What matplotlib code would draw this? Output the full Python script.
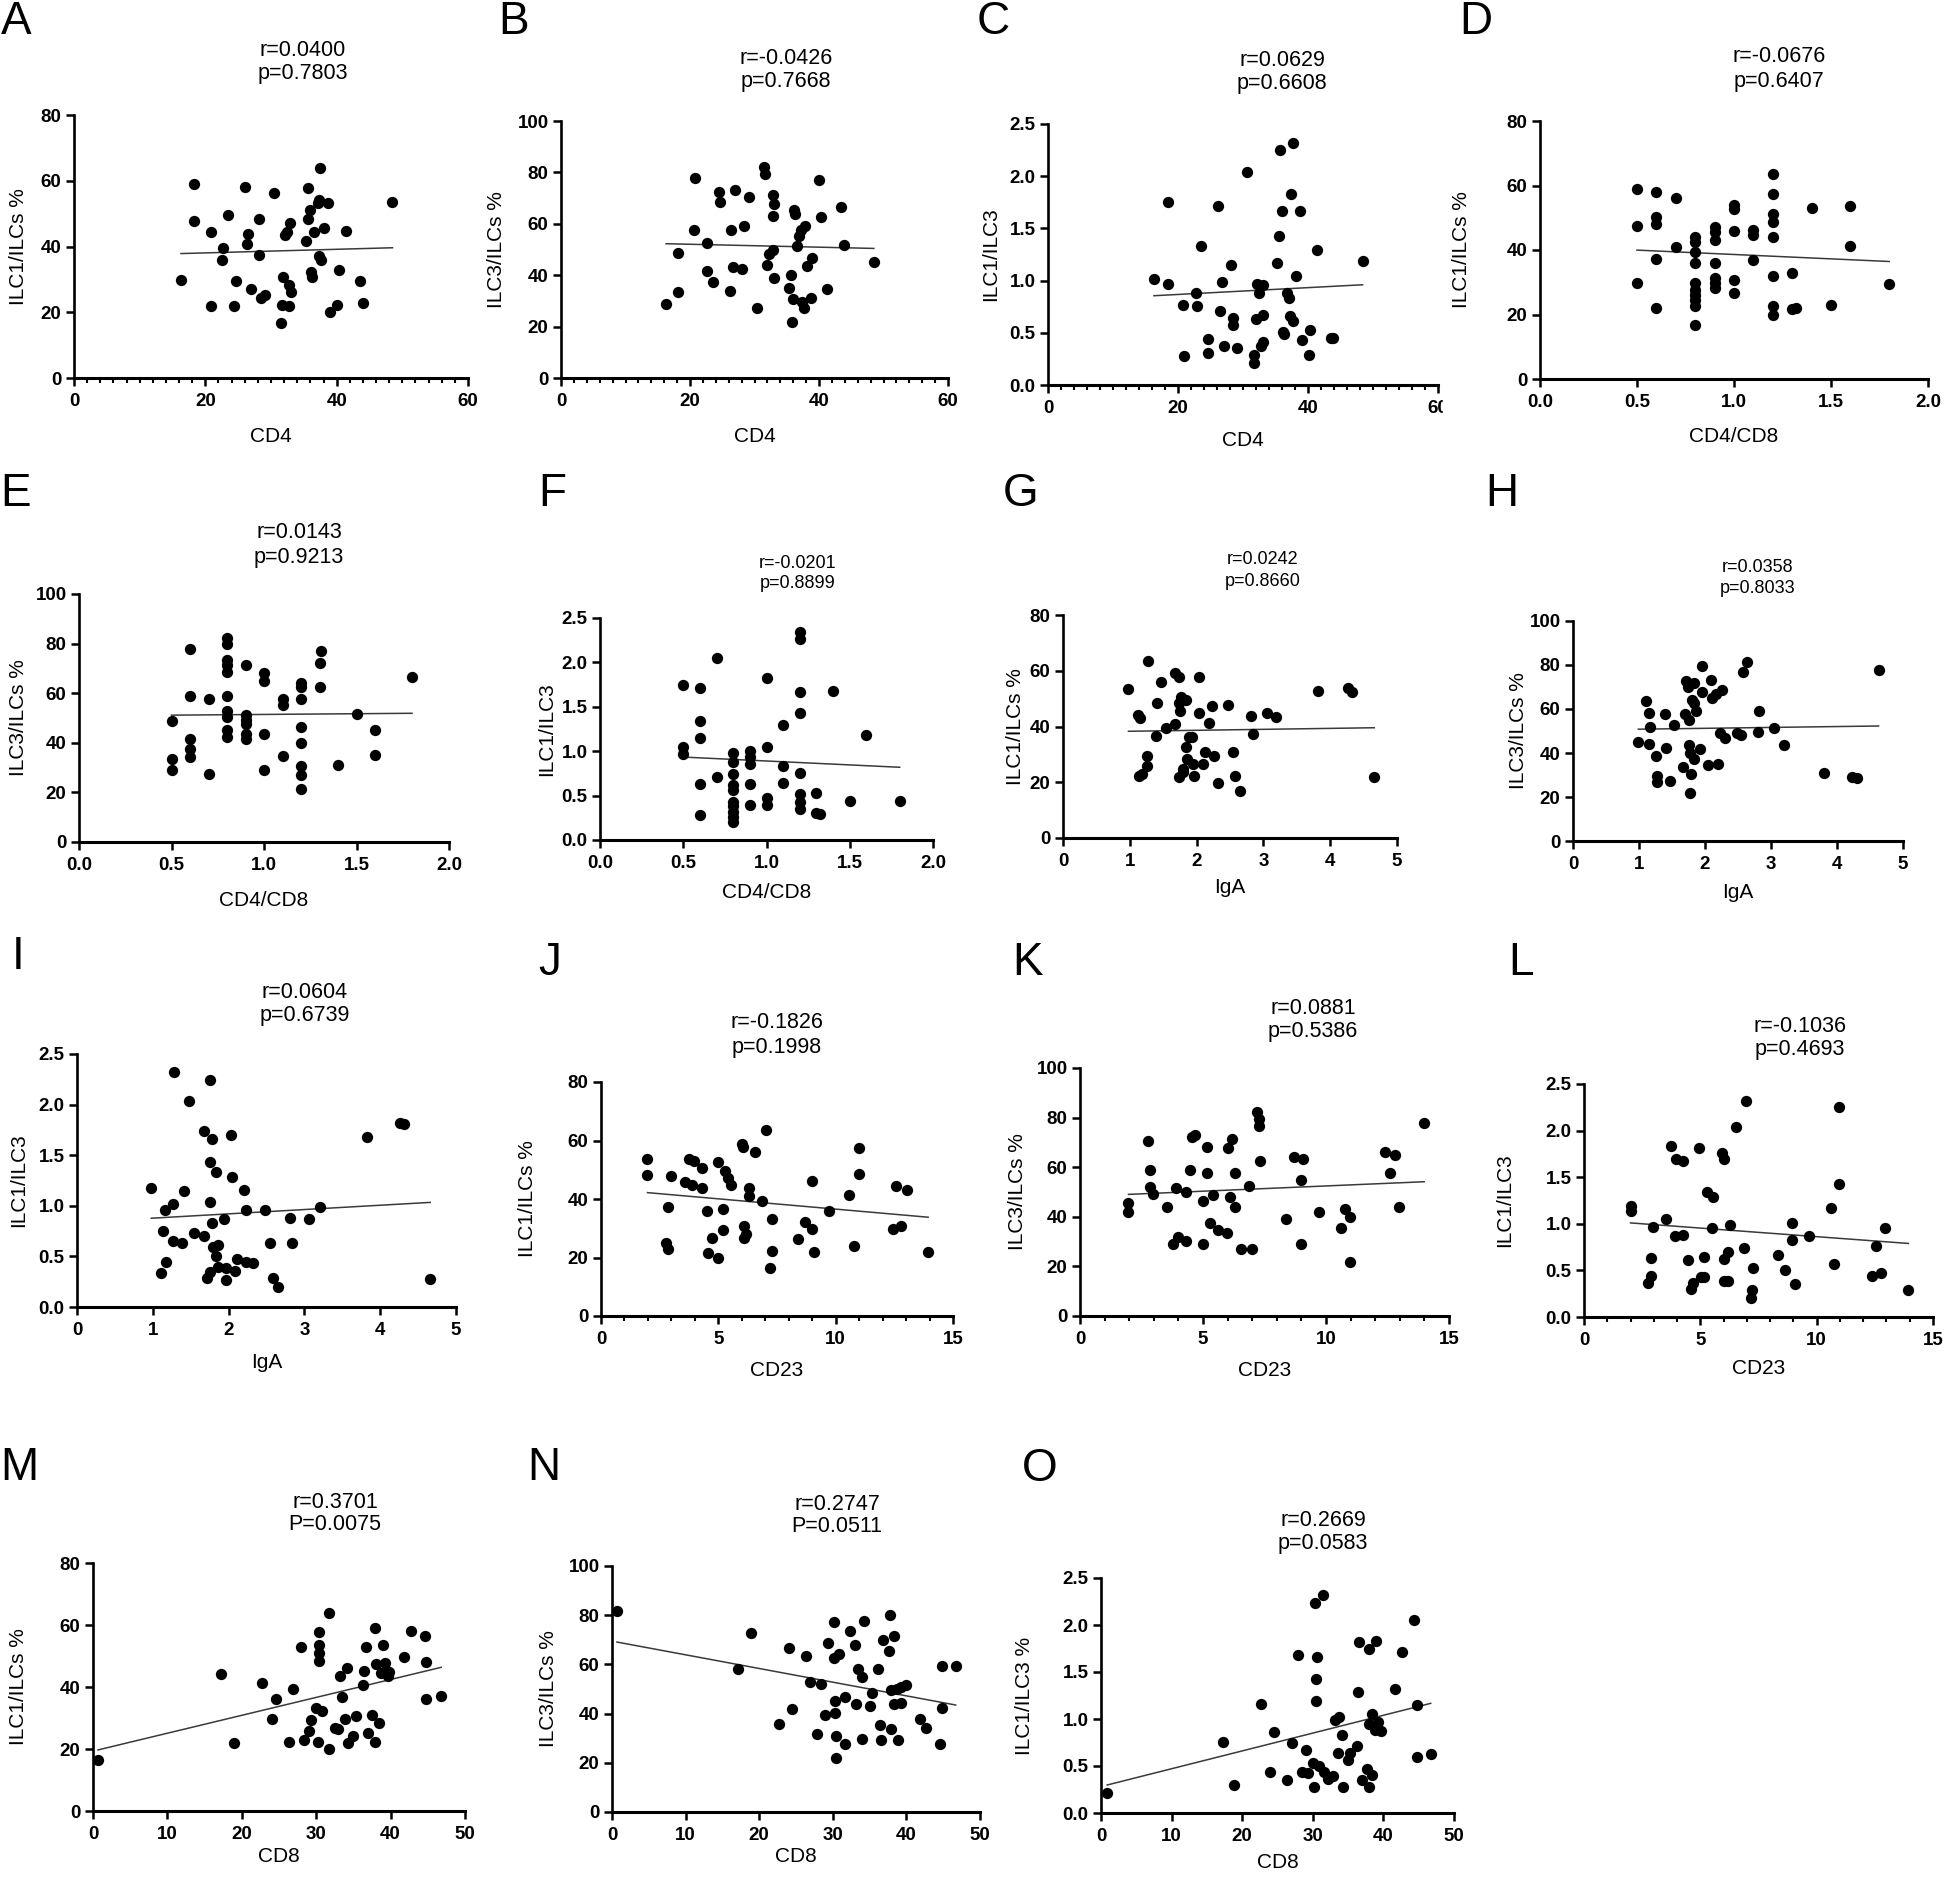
import numpy as np
import matplotlib
matplotlib.use("Agg")
import matplotlib.pyplot as plt
from matplotlib.ticker import MultipleLocator
from matplotlib.patches import Rectangle

plt.rcParams['font.family'] = ['Liberation Sans', 'DejaVu Sans']

W, H = 1944, 1878

# ---- data: (x, y) pairs ----
pts_a = [(16.3, 29.7), (18.2, 59.0), (18.2, 47.8), (20.8, 44.5), (20.8, 21.9), (22.7, 39.4), (22.5, 36.0),
         (23.4, 49.5), (24.4, 21.9), (24.7, 29.4), (26.1, 58.2), (26.5, 43.7), (26.3, 40.9), (27.0, 27.0),
         (28.2, 48.3), (28.2, 37.4), (28.5, 24.2), (29.1, 25.2), (30.5, 56.3), (31.9, 30.8), (31.6, 22.3),
         (31.5, 16.8), (32.2, 43.5), (32.4, 44.5), (32.7, 21.9), (32.9, 47.3), (32.8, 28.2), (33.0, 26.2),
         (35.6, 57.7), (35.9, 51.1), (35.6, 48.5), (35.3, 41.7), (36.1, 32.3), (36.2, 30.6), (36.6, 44.5),
         (37.1, 53.1), (37.5, 63.8), (37.3, 37.1), (37.6, 36.0), (38.0, 45.7), (38.7, 53.1), (39.0, 20.1),
         (40.0, 22.1), (40.3, 33.0), (41.4, 44.8), (43.5, 29.4), (44.0, 22.8), (48.5, 53.4), (37.3, 54.1)]
pts_b = [(16.3, 28.8), (18.2, 33.3), (18.2, 48.8), (20.8, 77.7), (20.6, 57.6), (22.6, 41.5), (22.7, 52.5),
         (23.5, 37.2), (24.5, 72.3), (24.7, 68.4), (26.2, 33.7), (26.4, 57.6), (26.7, 43.1), (27.0, 73.2),
         (28.1, 42.4), (28.3, 59.2), (29.1, 70.3), (30.4, 27.2), (31.5, 82.0), (31.7, 79.4), (32.0, 44.0),
         (32.2, 48.2), (32.8, 63.1), (32.8, 49.9), (32.9, 71.2), (33.1, 67.7), (33.1, 39.1), (35.3, 35.0),
         (35.6, 40.2), (35.8, 21.6), (36.0, 30.8), (36.2, 65.4), (36.3, 63.9), (36.6, 51.2), (36.9, 55.1),
         (37.2, 57.6), (37.4, 29.4), (37.7, 27.2), (37.9, 59.3), (38.2, 43.6), (38.7, 31.1), (38.9, 46.6),
         (40.0, 77.1), (40.3, 62.6), (41.3, 34.6), (43.4, 66.5), (43.9, 51.8), (48.5, 45.0)]
pts_c = [(16.3, 1.02), (18.4, 0.97), (18.4, 1.75), (20.8, 0.77), (20.9, 0.28), (22.7, 0.88), (22.9, 0.76),
         (23.6, 1.33), (24.6, 0.44), (24.6, 0.31), (26.2, 1.71), (26.5, 0.71), (26.7, 0.99), (27.1, 0.37),
         (28.2, 1.15), (28.4, 0.64), (28.4, 0.57), (29.1, 0.35), (30.6, 2.04), (31.7, 0.29), (31.7, 0.21),
         (32.0, 0.63), (32.2, 0.97), (32.5, 0.88), (32.7, 0.37), (33.0, 0.41), (33.0, 0.67), (33.0, 0.96),
         (35.3, 1.17), (35.6, 1.43), (35.7, 2.25), (36.0, 1.67), (36.2, 0.51), (36.3, 0.49), (36.7, 0.88),
         (37.1, 0.83), (37.2, 0.66), (37.4, 1.83), (37.7, 2.32), (37.7, 0.61), (38.2, 1.04), (38.7, 1.67),
         (39.1, 0.43), (40.1, 0.29), (40.3, 0.53), (41.4, 1.29), (43.6, 0.45), (43.9, 0.45), (48.4, 1.19)]
pts_d = [(0.5, 58.9), (0.5, 47.5), (0.5, 29.7), (0.6, 58.0), (0.6, 50.3), (0.6, 48.0), (0.6, 37.1),
         (0.6, 22.0), (0.7, 56.2), (0.7, 41.0), (0.8, 43.9), (0.8, 42.6), (0.8, 39.5), (0.8, 35.9),
         (0.8, 29.7), (0.8, 27.6), (0.8, 25.9), (0.8, 24.5), (0.8, 22.7), (0.8, 16.6), (0.9, 47.2),
         (0.9, 45.7), (0.9, 43.1), (0.9, 35.9), (0.9, 31.2), (0.9, 29.9), (0.9, 28.1), (1.0, 53.9),
         (1.0, 52.6), (1.0, 46.0), (1.0, 30.7), (1.0, 26.6), (1.1, 46.2), (1.1, 44.6), (1.1, 36.9),
         (1.2, 63.5), (1.2, 57.3), (1.2, 51.1), (1.2, 48.8), (1.2, 44.1), (1.2, 32.0), (1.2, 22.5),
         (1.2, 19.9), (1.3, 32.8), (1.3, 21.8), (1.32, 22.0), (1.4, 52.9), (1.5, 22.8), (1.6, 53.6),
         (1.6, 41.2), (1.8, 29.5)]
pts_e = [(0.5, 48.9), (0.5, 33.6), (0.5, 28.9), (0.6, 77.8), (0.6, 59.0), (0.6, 41.7), (0.6, 37.7),
         (0.6, 34.1), (0.7, 57.5), (0.7, 27.3), (0.8, 82.1), (0.8, 79.8), (0.8, 73.4), (0.8, 71.3),
         (0.8, 68.6), (0.8, 58.8), (0.8, 52.9), (0.8, 50.5), (0.8, 45.1), (0.8, 42.4), (0.9, 71.3),
         (0.9, 51.1), (0.9, 49.1), (0.9, 47.5), (0.9, 43.7), (0.9, 41.7), (1.0, 68.2), (1.0, 64.9),
         (1.0, 43.7), (1.0, 28.9), (1.1, 57.5), (1.1, 55.2), (1.1, 34.6), (1.2, 64.3), (1.2, 62.6),
         (1.2, 57.6), (1.2, 46.4), (1.2, 40.0), (1.2, 30.6), (1.2, 27.2), (1.2, 21.5), (1.3, 72.3),
         (1.31, 77.0), (1.3, 62.3), (1.4, 31.2), (1.5, 51.5), (1.6, 45.1), (1.6, 35.0), (1.8, 66.4)]
pts_f = [(0.5, 1.75), (0.5, 1.05), (0.5, 0.97), (0.6, 1.71), (0.6, 1.34), (0.6, 1.15), (0.6, 0.63),
         (0.6, 0.28), (0.7, 2.05), (0.7, 0.71), (0.8, 0.98), (0.8, 0.88), (0.8, 0.74), (0.8, 0.62),
         (0.8, 0.56), (0.8, 0.43), (0.8, 0.38), (0.8, 0.32), (0.8, 0.26), (0.8, 0.20), (0.9, 1.00),
         (0.9, 0.94), (0.9, 0.86), (0.9, 0.63), (0.9, 0.39), (1.0, 1.82), (1.0, 1.05), (1.0, 0.47),
         (1.0, 0.39), (1.1, 1.30), (1.1, 0.83), (1.1, 0.64), (1.2, 2.34), (1.2, 2.26), (1.2, 1.67),
         (1.2, 1.43), (1.2, 0.76), (1.2, 0.52), (1.2, 0.43), (1.2, 0.35), (1.3, 0.53), (1.3, 0.30),
         (1.32, 0.29), (1.4, 1.68), (1.5, 0.44), (1.6, 1.18), (1.8, 0.44)]
pts_g = [(0.98, 53.5), (1.13, 44.2), (1.14, 22.3), (1.16, 43.0), (1.19, 23.0), (1.26, 29.5), (1.26, 25.9),
         (1.27, 63.6), (1.39, 36.7), (1.40, 48.4), (1.47, 56.1), (1.54, 39.4), (1.67, 59.3), (1.68, 41.0),
         (1.73, 57.9), (1.73, 48.6), (1.75, 45.7), (1.73, 21.9), (1.77, 50.7), (1.79, 24.7), (1.79, 23.5),
         (1.84, 49.6), (1.84, 32.5), (1.86, 28.3), (1.89, 36.2), (1.93, 36.2), (1.95, 26.6), (1.96, 22.4),
         (2.04, 57.9), (2.04, 44.8), (2.09, 26.6), (2.12, 30.7), (2.19, 41.2), (2.23, 47.2), (2.26, 29.5),
         (2.32, 19.9), (2.47, 47.8), (2.54, 30.7), (2.58, 22.3), (2.65, 16.7), (2.82, 43.8), (2.84, 37.3),
         (3.05, 44.8), (3.19, 43.3), (3.82, 52.8), (4.26, 53.7), (4.32, 52.5), (4.66, 21.9)]
pts_h = [(0.99, 45.2), (1.10, 63.6), (1.15, 58.0), (1.15, 44.1), (1.17, 51.7), (1.25, 38.8), (1.27, 29.5),
         (1.28, 27.0), (1.39, 57.7), (1.41, 42.4), (1.47, 27.3), (1.53, 52.7), (1.67, 33.8), (1.69, 57.7),
         (1.71, 72.9), (1.74, 69.8), (1.76, 55.0), (1.76, 43.6), (1.77, 40.2), (1.77, 21.7), (1.79, 30.5),
         (1.81, 64.1), (1.83, 37.1), (1.84, 71.7), (1.86, 59.2), (1.84, 62.9), (1.93, 41.7), (1.95, 79.7),
         (1.95, 67.9), (2.04, 34.5), (2.09, 73.2), (2.11, 64.8), (2.16, 66.8), (2.19, 35.0), (2.26, 68.6),
         (2.23, 48.9), (2.30, 46.7), (2.49, 48.9), (2.54, 48.2), (2.58, 77.0), (2.63, 81.5), (2.80, 49.7),
         (2.82, 59.2), (3.04, 51.2), (3.20, 43.6), (3.81, 31.1), (4.23, 28.9), (4.30, 28.5), (4.63, 77.7)]
pts_i = [(0.98, 1.18), (1.11, 0.34), (1.13, 0.75), (1.16, 0.96), (1.17, 0.44), (1.27, 1.02), (1.28, 2.32),
         (1.27, 0.65), (1.39, 0.63), (1.41, 1.15), (1.48, 2.04), (1.54, 0.73), (1.67, 1.74), (1.68, 0.70),
         (1.72, 0.29), (1.75, 2.24), (1.75, 1.43), (1.76, 1.04), (1.76, 0.35), (1.78, 1.66), (1.78, 0.83),
         (1.80, 0.59), (1.83, 0.50), (1.84, 1.33), (1.86, 0.61), (1.86, 0.40), (1.94, 0.87), (1.96, 0.27),
         (1.97, 0.39), (2.03, 1.70), (2.05, 1.28), (2.09, 0.36), (2.11, 0.47), (2.20, 1.16), (2.23, 0.96),
         (2.23, 0.44), (2.32, 0.43), (2.48, 0.96), (2.54, 0.63), (2.58, 0.29), (2.65, 0.20), (2.81, 0.88),
         (2.84, 0.63), (3.06, 0.87), (3.20, 0.99), (3.83, 1.68), (4.26, 1.82), (4.32, 1.81), (4.66, 0.28)]
pts_j = [(1.98, 53.6), (1.98, 48.1), (2.86, 37.3), (2.78, 25.0), (2.86, 22.9), (2.99, 47.9), (3.57, 45.8),
         (3.76, 53.6), (3.89, 44.7), (3.97, 52.9), (4.29, 50.7), (4.29, 43.6), (4.50, 35.9), (4.58, 21.7),
         (4.71, 26.8), (4.97, 52.7), (4.97, 19.9), (5.19, 36.7), (5.19, 29.4), (5.29, 49.6), (5.42, 47.3),
         (5.56, 44.7), (6.01, 58.7), (6.03, 57.8), (6.08, 30.7), (6.08, 26.5), (6.16, 28.2), (6.30, 43.6),
         (6.30, 41.0), (6.56, 56.1), (6.88, 39.4), (7.01, 63.7), (7.28, 33.0), (7.28, 22.3), (7.22, 16.5),
         (8.39, 26.2), (8.68, 32.2), (8.99, 46.2), (8.99, 29.6), (9.07, 22.0), (9.71, 35.9), (10.58, 41.3),
         (10.79, 24.0), (10.98, 57.6), (10.98, 48.7), (12.43, 29.6), (12.57, 44.4), (12.78, 30.7),
         (13.02, 43.2), (13.94, 22.0)]
pts_k = [(1.97, 45.4), (1.97, 42.0), (2.77, 70.4), (2.85, 58.9), (2.85, 51.9), (2.95, 49.2), (3.55, 43.8),
         (3.78, 29.2), (3.91, 51.5), (3.98, 31.7), (4.29, 30.3), (4.29, 50.1), (4.46, 58.9), (4.56, 72.1),
         (4.66, 73.0), (4.99, 46.5), (4.99, 29.0), (5.17, 68.3), (5.17, 57.5), (5.29, 37.3), (5.42, 48.8),
         (5.60, 34.6), (5.97, 33.6), (6.00, 67.7), (6.10, 48.1), (6.18, 71.3), (6.30, 57.5), (6.30, 43.8),
         (6.55, 27.2), (6.88, 52.6), (6.98, 27.2), (7.18, 82.1), (7.26, 79.4), (7.26, 76.7), (7.31, 62.5),
         (8.39, 39.1), (8.70, 64.0), (9.00, 54.9), (9.00, 29.2), (9.08, 63.3), (9.71, 41.8), (10.61, 35.3),
         (10.76, 43.0), (10.97, 40.0), (10.97, 21.6), (12.40, 66.3), (12.60, 57.8), (12.81, 65.0),
         (12.98, 44.1), (13.99, 77.8)]
pts_l = [(2.00, 1.19), (2.00, 1.14), (2.74, 0.36), (2.88, 0.44), (2.88, 0.63), (2.96, 0.97), (3.54, 1.05),
         (3.76, 1.83), (3.89, 0.87), (3.94, 1.69), (4.26, 1.67), (4.26, 0.88), (4.48, 0.61), (4.61, 0.30),
         (4.69, 0.37), (4.93, 1.81), (5.01, 0.43), (5.14, 0.64), (5.14, 0.43), (5.28, 1.34), (5.54, 1.29),
         (5.49, 0.95), (5.94, 1.76), (6.00, 1.70), (6.02, 0.62), (6.02, 0.39), (6.21, 0.39), (6.21, 0.70),
         (6.26, 0.99), (6.53, 2.04), (6.87, 0.74), (6.95, 2.32), (7.19, 0.20), (7.22, 0.29), (7.27, 0.53),
         (8.34, 0.67), (8.66, 0.50), (8.95, 1.01), (8.95, 0.83), (9.06, 0.35), (9.67, 0.87), (10.60, 1.17),
         (10.74, 0.57), (10.95, 1.43), (10.95, 2.25), (12.39, 0.44), (12.55, 0.76), (12.76, 0.47),
         (12.95, 0.96), (13.94, 0.29)]
pts_m = [(0.67, 16.5), (17.25, 44.1), (18.9, 21.9), (22.7, 41.4), (24.0, 29.6), (24.6, 36.1), (26.4, 22.1),
         (26.9, 39.3), (27.9, 52.9), (28.3, 22.9), (29.0, 25.9), (29.3, 29.4), (30.0, 33.2), (30.2, 22.2),
         (30.4, 57.6), (30.4, 53.6), (30.4, 50.9), (30.4, 48.5), (30.8, 32.1), (31.7, 63.8), (31.7, 20.0),
         (32.5, 26.7), (32.9, 26.5), (33.2, 43.4), (33.5, 36.7), (33.9, 29.6), (34.2, 46.1), (34.3, 21.9),
         (35.0, 24.2), (35.4, 30.7), (36.25, 40.7), (36.4, 45.2), (36.7, 52.9), (36.9, 25.1), (37.5, 31.0),
         (37.9, 22.4), (37.9, 59.0), (38.1, 47.5), (38.5, 28.3), (38.75, 44.5), (39.0, 53.6), (39.2, 47.9),
         (39.6, 43.4), (39.8, 44.7), (41.8, 49.8), (42.7, 58.1), (44.6, 56.3), (44.8, 48.2), (44.8, 36.1),
         (46.8, 37.1)]
pts_n = [(0.67, 81.8), (17.1, 58.0), (18.9, 72.6), (22.7, 35.7), (24.0, 66.5), (24.5, 41.9), (26.3, 63.4),
         (26.9, 53.0), (27.8, 31.8), (28.4, 52.0), (29.0, 39.5), (29.4, 68.8), (30.1, 77.3), (30.1, 62.4),
         (30.3, 45.3), (30.3, 40.4), (30.5, 30.7), (30.5, 21.9), (30.9, 64.2), (31.6, 46.9), (31.6, 27.7),
         (32.4, 73.5), (33.0, 67.8), (33.2, 43.9), (33.4, 58.0), (33.9, 55.0), (33.9, 29.6), (34.3, 77.7),
         (35.1, 43.1), (35.3, 48.5), (36.2, 58.0), (36.4, 35.4), (36.6, 29.1), (36.8, 70.1), (37.6, 65.5),
         (37.8, 80.0), (37.9, 49.6), (37.9, 33.6), (38.3, 71.5), (38.3, 43.9), (38.7, 49.9), (38.9, 29.3),
         (39.3, 50.7), (39.3, 44.5), (39.9, 51.6), (41.8, 37.7), (42.7, 34.1), (44.5, 27.7), (44.8, 59.3),
         (44.8, 42.2), (46.7, 59.3)]
pts_o = [(0.88, 0.21), (17.3, 0.76), (18.9, 0.30), (22.7, 1.16), (24.0, 0.44), (24.5, 0.86), (26.4, 0.35),
         (27.0, 0.74), (27.9, 1.68), (28.5, 0.44), (29.0, 0.67), (29.3, 0.43), (30.05, 0.53), (30.1, 0.28),
         (30.3, 2.23), (30.5, 1.43), (30.5, 1.19), (30.6, 1.66), (30.9, 0.50), (31.5, 2.32), (31.6, 0.44),
         (32.2, 0.36), (32.9, 0.39), (33.2, 0.99), (33.6, 0.64), (33.7, 1.02), (34.1, 0.83), (34.3, 0.28),
         (35.0, 0.56), (35.3, 0.64), (36.2, 0.71), (36.4, 1.29), (36.6, 1.82), (36.9, 0.35), (37.7, 0.47),
         (37.9, 0.28), (37.95, 1.74), (38.0, 0.95), (38.4, 1.05), (38.4, 0.40), (38.8, 0.88), (39.0, 1.83),
         (39.3, 0.97), (39.7, 0.87), (41.7, 1.32), (42.6, 1.71), (44.4, 2.05), (44.7, 0.60), (44.8, 1.15),
         (46.7, 0.63)]

stats_r = ["0.0400", "-0.0426", "0.0629", "-0.0676", "0.0143", "-0.0201", "0.0242", "0.0358",
           "0.0604", "-0.1826", "0.0881", "-0.1036", "0.3701", "0.2747", "0.2669"]
stats_p = ["p=0.7803", "p=0.7668", "p=0.6608", "p=0.6407", "p=0.9213", "p=0.8899", "p=0.8660",
           "p=0.8033", "p=0.6739", "p=0.1998", "p=0.5386", "p=0.4693", "P=0.0075", "P=0.0511",
           "p=0.0583"]

cd4_ticks = [0, 20, 40, 60]
ratio_ticks = [0.0, 0.5, 1.0, 1.5, 2.0]
iga_ticks = [0, 1, 2, 3, 4, 5]
cd23_ticks = [0, 5, 10, 15]
cd8_ticks = [0, 10, 20, 30, 40, 50]
ilc1_ticks = [0, 20, 40, 60, 80]
ilc3_ticks = [0, 20, 40, 60, 80, 100]
ilcr_ticks = [0.0, 0.5, 1.0, 1.5, 2.0, 2.5]

# ---- layout (pixels in the 1944x1878 canvas) ----
# letter, points, xlabel, ylabel, xticks, x minor step, yticks, axes box (L, R, T, B),
# title x, title y1, y2, title size, letter x, letter y, ylabel x, xlabel y
panels = [
    ("A", pts_a, "CD4", "ILC1/ILCs %", cd4_ticks, 2, ilc1_ticks, (74, 468, 115, 378), 303, 50, 74, 15.5, 1, 22, 19, 437),
    ("B", pts_b, "CD4", "ILC3/ILCs %", cd4_ticks, 2, ilc3_ticks, (561, 948, 121, 378), 786, 58, 82, 15.5, 498, 22, 496, 437),
    ("C", pts_c, "CD4", "ILC1/ILC3", cd4_ticks, 2, ilcr_ticks, (1048, 1438, 124, 385), 1282, 60, 84, 15.5, 977, 22, 991, 440),
    ("D", pts_d, "CD4/CD8", "ILC1/ILCs %", ratio_ticks, None, ilc1_ticks, (1540, 1928, 121, 379), 1779, 57, 81, 15.5, 1459, 22, 1461, 437),
    ("E", pts_e, "CD4/CD8", "ILC3/ILCs %", ratio_ticks, None, ilc3_ticks, (79, 449, 594, 842), 299, 533, 557, 15.5, 0, 494, 19, 900),
    ("F", pts_f, "CD4/CD8", "ILC1/ILC3", ratio_ticks, None, ilcr_ticks, (600, 933, 618, 840), 798, 563, 584, 13, 538, 494, 547, 892),
    ("G", pts_g, "IgA", "ILC1/ILCs %", iga_ticks, None, ilc1_ticks, (1063, 1397, 615, 838), 1263, 560, 581, 13, 1003, 494, 1015, 888),
    ("H", pts_h, "IgA", "ILC3/ILCs %", iga_ticks, None, ilc3_ticks, (1573, 1903, 621, 841), 1758, 567, 588, 13, 1485, 494, 1518, 892),
    ("I", pts_i, "IgA", "ILC1/ILC3", iga_ticks, None, ilcr_ticks, (77, 456, 1054, 1307), 305, 992, 1016, 15.5, 12, 957, 19, 1362),
    ("J", pts_j, "CD23", "ILC1/ILCs %", cd23_ticks, 1, ilc1_ticks, (601, 953, 1082, 1316), 777, 1023, 1047, 15.5, 538, 963, 527, 1370),
    ("K", pts_k, "CD23", "ILC3/ILCs %", cd23_ticks, 1, ilc3_ticks, (1080, 1449, 1068, 1316), 1313, 1008, 1031, 15.5, 1012, 963, 1017, 1370),
    ("L", pts_l, "CD23", "ILC1/ILC3", cd23_ticks, 1, ilcr_ticks, (1584, 1933, 1084, 1317), 1800, 1027, 1049, 15.5, 1508, 963, 1505, 1368),
    ("M", pts_m, "CD8", "ILC1/ILCs %", cd8_ticks, None, ilc1_ticks, (93, 465, 1563, 1811), 335, 1503, 1525, 15.5, 0, 1468, 19, 1856),
    ("N", pts_n, "CD8", "ILC3/ILCs %", cd8_ticks, None, ilc3_ticks, (612, 980, 1566, 1812), 837, 1505, 1527, 15.5, 527, 1468, 549, 1856),
    ("O", pts_o, "CD8", "ILC1/ILC3 %", cd8_ticks, None, ilcr_ticks, (1101, 1454, 1578, 1813), 1323, 1521, 1543, 15.5, 1022, 1469, 1025, 1862),
]


def fx(x):
    return x / W


def fy(y):
    return 1 - y / H


def fmt(v, ticks):
    if any(isinstance(t, float) for t in ticks):
        return f"{v:.1f}"
    return f"{int(v)}"


fig = plt.figure(figsize=(W / 100, H / 100), dpi=100)

for i, (let, pts, xl, yl, xt, xminor, yt, box, tx, ty1, ty2, tsz, lx, ly, ylx, xly) in enumerate(panels):
    L, R, T, B = box
    ax = fig.add_axes([fx(L), fy(B), (R - L) / W, (B - T) / H])
    xy = np.array(pts)
    x, y = xy[:, 0], xy[:, 1]
    ax.scatter(x, y, s=66, c="black", linewidths=0, zorder=3, clip_on=False)

    # linear regression line over the data range
    k, b = np.polyfit(x, y, 1)
    xs = np.array([x.min(), x.max()])
    ax.plot(xs, k * xs + b, color="#3a3a3a", lw=1.1, zorder=2)

    ax.set_xlim(xt[0], xt[-1])
    ax.set_ylim(yt[0], yt[-1])
    ax.set_xticks(xt)
    ax.set_xticklabels([fmt(v, xt) for v in xt])
    ax.set_yticks(yt)
    ax.set_yticklabels([fmt(v, yt) for v in yt])
    if xminor:
        ax.xaxis.set_minor_locator(MultipleLocator(xminor))
    for s in ("top", "right"):
        ax.spines[s].set_visible(False)
    ax.spines["left"].set_linewidth(1.9)
    ax.spines["bottom"].set_linewidth(2.2)
    ax.tick_params(which="major", length=6, width=1.8, labelsize=13.5, pad=3)
    ax.tick_params(axis="x", which="major", pad=5)
    ax.tick_params(which="minor", length=3.5, width=1.5)
    for lab in ax.get_xticklabels() + ax.get_yticklabels():
        lab.set_fontweight("bold")

    ax.set_xlabel(xl, fontsize=15)
    ax.xaxis.set_label_coords(fx((L + R) / 2), fy(xly), transform=fig.transFigure)
    ax.xaxis.label.set_va("center")
    ax.set_ylabel(yl, fontsize=15)
    ax.yaxis.set_label_coords(fx(ylx), fy((T + B) / 2), transform=fig.transFigure)
    ax.yaxis.label.set_va("center")
    ax.yaxis.label.set_ha("center")

    fig.text(fx(tx), fy(ty1), "r=" + stats_r[i], ha="center", va="center", fontsize=tsz)
    fig.text(fx(tx), fy(ty2), stats_p[i], ha="center", va="center", fontsize=tsz)
    fig.text(fx(lx), fy(ly), let, ha="left", va="center", fontsize=33)

# panel C's last tick label is cut at the image edge in the source
fig.add_artist(Rectangle((fx(1443), fy(420)), 30 / W, 32 / H, transform=fig.transFigure,
                         color="white", zorder=10))

fig.savefig("out.png", dpi=100, facecolor="white")
